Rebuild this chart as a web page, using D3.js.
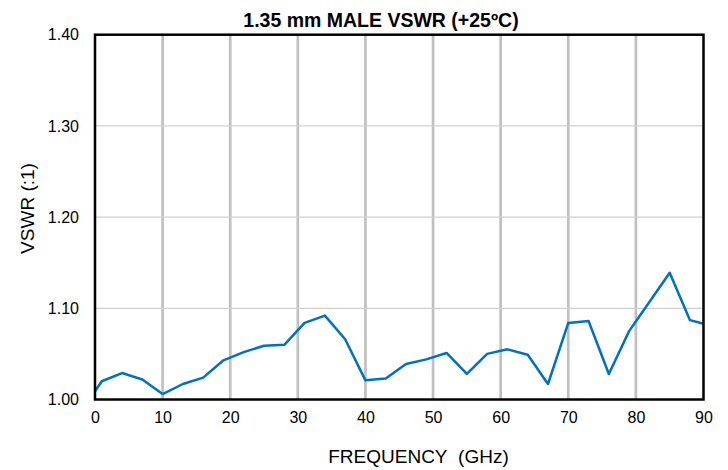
<!DOCTYPE html>
<html>
<head>
<meta charset="utf-8">
<script src="https://cdn.jsdelivr.net/npm/d3@7"></script>
<style>
  body { margin: 0; background: #fff; }
  text { font-family: "Liberation Sans", Arial, sans-serif; fill: #000; }
</style>
</head>
<body>
<svg id="chart" width="728" height="470"></svg>
<script>
var freqs = [0, 1, 4, 7, 10, 13, 16, 19, 22, 25, 28, 31, 34, 37, 40, 43, 46, 49, 52, 55, 58, 61, 64, 67, 70, 73, 76, 79, 82, 85, 88, 90];
var vswr = [1.009, 1.020, 1.029, 1.022, 1.006, 1.017, 1.024, 1.043, 1.052, 1.059, 1.060, 1.084, 1.092, 1.066, 1.021, 1.023, 1.039, 1.044, 1.051, 1.028, 1.050, 1.055, 1.049, 1.017, 1.084, 1.086, 1.028, 1.075, 1.107, 1.139, 1.087, 1.083];
var xTicks = [0, 10, 20, 30, 40, 50, 60, 70, 80, 90];
var yTicks = [1.00, 1.10, 1.20, 1.30, 1.40];

var svg = d3.select("#chart");

var x = d3.scaleLinear().domain([0, 90]).range([95, 703.5]);
var y = d3.scaleLinear().domain([1.0, 1.4]).range([399.5, 34.7]);

// vertical gridlines (thick)
svg.append("g")
  .selectAll("line")
  .data(xTicks.slice(1, -1))
  .enter()
  .append("line")
  .attr("x1", d => x(d)).attr("x2", d => x(d))
  .attr("y1", y(1.4)).attr("y2", y(1.0))
  .attr("stroke", "#c0c0c0")
  .attr("stroke-width", 2.7);

// horizontal gridlines (thin)
svg.append("g")
  .selectAll("line")
  .data(yTicks.slice(1, -1))
  .enter()
  .append("line")
  .attr("x1", x(0)).attr("x2", x(90))
  .attr("y1", d => y(d)).attr("y2", d => y(d))
  .attr("stroke", "#d0d0d0")
  .attr("stroke-width", 1.2);

// data line
var line = d3.line()
  .x((d, i) => x(freqs[i]))
  .y(d => y(d));

svg.append("path")
  .datum(vswr)
  .attr("d", line)
  .attr("fill", "none")
  .attr("stroke", "#0070c0")
  .attr("stroke-width", 2.5)
  .attr("stroke-linejoin", "round");

// plot border
svg.append("rect")
  .attr("x", x(0)).attr("y", y(1.4))
  .attr("width", x(90) - x(0))
  .attr("height", y(1.0) - y(1.4))
  .attr("fill", "none")
  .attr("stroke", "#000")
  .attr("stroke-width", 2.5);

// axes (labels only, the box draws the lines)
var xAxis = svg.append("g")
  .attr("transform", "translate(0," + y(1.0) + ")")
  .call(d3.axisBottom(x).tickValues(xTicks).tickSize(0).tickPadding(12).tickFormat(d3.format("d")));
xAxis.select(".domain").remove();
xAxis.selectAll("text").style("font-size", "16px").style("font-family", "Liberation Sans, Arial, sans-serif").attr("fill", "#000");

var yAxis = svg.append("g")
  .attr("transform", "translate(" + x(0) + ",0)")
  .call(d3.axisLeft(y).tickValues(yTicks).tickSize(0).tickPadding(16).tickFormat(d3.format(".2f")));
yAxis.select(".domain").remove();
yAxis.selectAll("text").style("font-size", "16px").style("font-family", "Liberation Sans, Arial, sans-serif").attr("fill", "#000");

// titles
svg.append("text")
  .attr("x", 381).attr("y", 27)
  .attr("text-anchor", "middle")
  .style("font-size", "19.5px")
  .style("font-weight", "bold")
  .text("1.35 mm MALE VSWR (+25ºC)");

svg.append("text")
  .attr("x", 418.5).attr("y", 463)
  .attr("text-anchor", "middle")
  .style("font-size", "19px")
  .style("white-space", "pre")
  .text("FREQUENCY\u00a0\u00a0(GHz)");

svg.append("text")
  .attr("transform", "translate(33.5,208.5) rotate(-90)")
  .attr("text-anchor", "middle")
  .style("font-size", "19px")
  .text("VSWR (:1)");
</script>
</body>
</html>
